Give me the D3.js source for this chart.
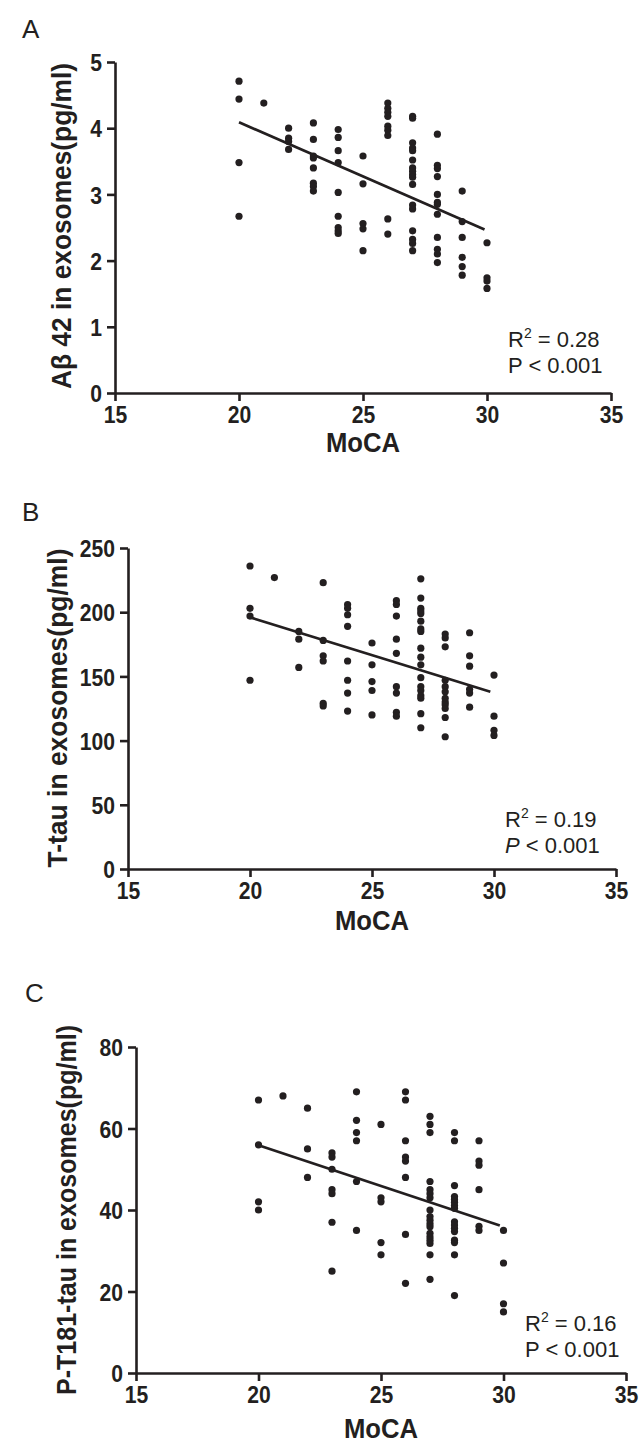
<!DOCTYPE html>
<html>
<head>
<meta charset="utf-8">
<script src="https://cdn.jsdelivr.net/npm/d3@7"></script>
<style>
  body { margin: 0; background: #fff; }
  .tick text { font-family: "Liberation Sans", Arial, sans-serif; font-weight: bold; font-size: 24px; fill: #231f20; }
  .lab { font-family: "Liberation Sans", Arial, sans-serif; font-weight: bold; fill: #231f20; }
  .note { font-family: "Liberation Sans", Arial, sans-serif; font-size: 22px; fill: #231f20; }
</style>
</head>
<body>
<div id="fig"></div>
<script>
// MoCA scores on the x axis (points stacked at each score)
var moca = [20, 21, 22, 23, 24, 25, 26, 27, 28, 29, 30];

// A: Abeta 42 in exosomes (pg/ml), one list per MoCA score
var abeta42 = [
  [4.71, 4.44, 3.48, 2.67],
  [4.38],
  [4.00, 3.85, 3.80, 3.68],
  [4.08, 3.83, 3.58, 3.55, 3.40, 3.17, 3.12, 3.05],
  [3.98, 3.86, 3.66, 3.48, 3.03, 2.67, 2.50, 2.45, 2.41],
  [3.58, 3.16, 2.56, 2.48, 2.15],
  [4.38, 4.30, 4.24, 4.18, 4.03, 3.97, 3.89, 2.63, 2.40],
  [4.18, 4.15, 3.78, 3.70, 3.66, 3.52, 3.40, 3.35, 3.30, 3.26, 3.15, 2.84, 2.78, 2.45, 2.32, 2.26, 2.15],
  [3.91, 3.44, 3.39, 3.27, 3.00, 2.88, 2.85, 2.70, 2.35, 2.17, 2.10, 1.97],
  [3.05, 2.59, 2.35, 2.05, 1.91, 1.78],
  [2.27, 1.74, 1.69, 1.58]
];

// B: T-tau in exosomes (pg/ml)
var ttau = [
  [236, 203, 197, 147],
  [227],
  [185, 179, 157],
  [223, 178, 166, 162, 129, 127],
  [206, 203, 198, 189, 162, 147, 137, 123],
  [176, 159, 146, 139, 120],
  [209, 206, 197, 179, 168, 142, 137, 122, 119],
  [226, 211, 203, 201, 199, 193, 187, 185, 172, 165, 159, 149, 142, 139, 135, 133, 121, 110],
  [183, 180, 173, 147, 142, 138, 133, 130, 128, 125, 118, 103],
  [184, 166, 158, 140, 137, 126],
  [151, 119, 108, 104]
];

// C: P-T181-tau in exosomes (pg/ml)
var ptau = [
  [67, 56, 42, 40],
  [68],
  [65, 55, 48],
  [54, 53, 50, 45, 44, 37, 25],
  [69, 62, 59, 57, 47, 35],
  [61, 43, 42, 32, 29],
  [69, 67, 57, 53, 52, 48, 34, 22],
  [63, 61, 59, 47, 45, 44, 43, 40, 38.4, 37.5, 36.6, 35.9, 34.3, 33.4, 32.6, 31.8, 29, 23],
  [59, 57, 46, 43.3, 42.6, 41.9, 41.1, 40.4, 37.1, 36.3, 35.5, 34.7, 32.6, 32, 29, 19],
  [57, 52, 51, 45, 36, 35],
  [35, 27, 17, 15]
];

// regression line end points (MoCA, value)
var fitA = [[20, 4.09], [29.9, 2.47]];
var fitB = [[20, 196], [29.85, 138]];
var fitC = [[20, 55.9], [29.85, 36.2]];

var xTicks = [15, 20, 25, 30, 35];
var yTicksA = [0, 1, 2, 3, 4, 5];
var yTicksB = [0, 50, 100, 150, 200, 250];
var yTicksC = [0, 20, 40, 60, 80];

var ink = "#231f20";

var svg = d3.select("#fig").append("svg")
  .attr("width", 641)
  .attr("height", 1445);

// squeeze a text horizontally, the original uses a narrow bold face
function squeeze(sel, f) {
  sel.each(function() {
    var w = this.getComputedTextLength();
    d3.select(this).attr("textLength", w * f).attr("lengthAdjust", "spacingAndGlyphs");
  });
}

function drawPanel(p) {
  var x = d3.scaleLinear().domain([15, 35]).range([p.left, p.right]);
  var y = d3.scaleLinear().domain([0, p.yMax]).range([p.bottom, p.top]);
  var g = svg.append("g");

  // panel letter
  g.append("text")
    .attr("class", "note")
    .attr("x", p.letterX).attr("y", p.letterY)
    .style("font-size", "26px")
    .text(p.letter);

  var xAxis = g.append("g")
    .attr("transform", `translate(0,${p.bottom})`)
    .call(d3.axisBottom(x).tickValues(xTicks).tickFormat(d3.format("d")).tickSize(8).tickSizeOuter(0));
  var yAxis = g.append("g")
    .attr("transform", `translate(${p.left},0)`)
    .call(d3.axisLeft(y).tickValues(p.yTicks).tickFormat(d3.format("d")).tickSize(8).tickSizeOuter(0).tickPadding(5));

  [xAxis, yAxis].forEach(function(a) {
    a.select(".domain").attr("stroke", ink).attr("stroke-width", 2.6);
    a.selectAll(".tick line").attr("stroke", ink).attr("stroke-width", 2.6);
  });
  xAxis.selectAll(".tick text").attr("y", 13).attr("dy", "0.71em").call(squeeze, 0.88);
  yAxis.selectAll(".tick text").attr("dy", "0.36em").call(squeeze, 0.88);

  // points
  var pts = [];
  moca.forEach(function(m, i) {
    p.values[i].forEach(function(v) { pts.push({ m: m, v: v }); });
  });
  g.selectAll("circle")
    .data(pts)
    .enter()
    .append("circle")
    .attr("cx", d => x(d.m))
    .attr("cy", d => y(d.v))
    .attr("r", 3.6)
    .attr("fill", ink);

  // regression line
  g.append("path")
    .datum(p.fit)
    .attr("fill", "none")
    .attr("stroke", ink)
    .attr("stroke-width", 2.7)
    .attr("d", d3.line().x(d => x(d[0])).y(d => y(d[1])));

  // axis titles
  g.append("text")
    .attr("class", "lab")
    .attr("text-anchor", "middle")
    .attr("x", (p.left + p.right) / 2)
    .attr("y", p.bottom + p.moCaGap)
    .style("font-size", "27px")
    .text("MoCA")
    .call(squeeze, 0.95);

  g.append("text")
    .attr("class", "lab")
    .attr("text-anchor", "middle")
    .attr("transform", `translate(${p.yLabelX},${p.yLabelY}) rotate(-90)`)
    .style("font-size", "27px")
    .text(p.yTitle)
    .attr("textLength", p.yLabelLen)
    .attr("lengthAdjust", "spacingAndGlyphs");

  // stats note
  var note = g.append("text").attr("class", "note").attr("x", p.noteX).attr("y", p.noteY);
  note.append("tspan").text("R");
  note.append("tspan").attr("dy", -9).style("font-size", "14px").text("2");
  note.append("tspan").attr("dy", 9).text(" = " + p.r2);

  var pl = g.append("text").attr("class", "note").attr("x", p.noteX).attr("y", p.noteY + 26);
  pl.append("tspan").style("font-style", p.italicP ? "italic" : "normal").text("P");
  pl.append("tspan").text(" < 0.001");
}

drawPanel({
  letter: "A", letterX: 22, letterY: 38,
  left: 115, right: 611, top: 62, bottom: 393,
  yMax: 5, yTicks: yTicksA, values: abeta42, fit: fitA, moCaGap: 59,
  yTitle: "A\u03b2 42 in exosomes(pg/ml)", yLabelX: 71, yLabelY: 226, yLabelLen: 326,
  noteX: 508, noteY: 347, r2: "0.28", italicP: false
});

drawPanel({
  letter: "B", letterX: 22, letterY: 521,
  left: 128, right: 616, top: 548, bottom: 869,
  yMax: 250, yTicks: yTicksB, values: ttau, fit: fitB, moCaGap: 61,
  yTitle: "T-tau in exosomes(pg/ml)", yLabelX: 67, yLabelY: 708, yLabelLen: 319,
  noteX: 505, noteY: 827, r2: "0.19", italicP: true
});

drawPanel({
  letter: "C", letterX: 25, letterY: 1002,
  left: 136, right: 626, top: 1047, bottom: 1373,
  yMax: 80, yTicks: yTicksC, values: ptau, fit: fitC, moCaGap: 65,
  yTitle: "P-T181-tau in exosomes(pg/ml)", yLabelX: 76, yLabelY: 1210, yLabelLen: 370,
  noteX: 525, noteY: 1331, r2: "0.16", italicP: false
});
</script>
</body>
</html>
